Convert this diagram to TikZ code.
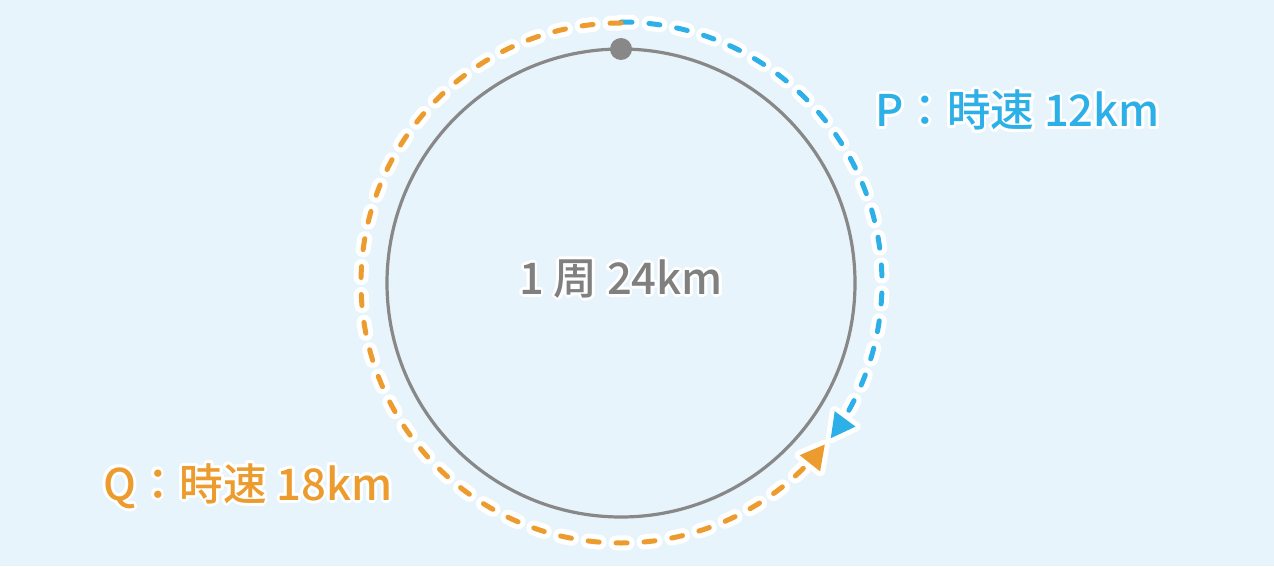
\documentclass[tikz,border=0pt]{standalone}
\usepackage{fontspec}
\setmainfont{Noto Sans CJK JP}
\newfontfamily\lblfont{Noto Sans CJK JP Medium}
\usetikzlibrary{calc}
\definecolor{bg}{HTML}{E7F4FC}
\definecolor{pblue}{HTML}{2DB0E8}
\definecolor{qorange}{HTML}{EC9C2E}
\definecolor{ringgray}{HTML}{888888}
\definecolor{txtgray}{HTML}{808080}
\newcommand{\halolabel}[5]{% name, anchor, position, color, text
  \foreach \a in {0,30,...,330}{\node[lbl, anchor=#2, text=white] at ($(#3)+(\a:2.8pt)$) {#5};}
  \node[lbl, anchor=#2, text=#4] (#1) at (#3) {#5};
}
\begin{document}
\begin{tikzpicture}[x=1pt,y=1pt,
  lbl/.style={inner sep=0pt, font=\lblfont\fontsize{43.6}{43.6}\selectfont},
  halo/.style={white, line width=15pt, line cap=round, dash pattern=on 11pt off 17pt},
  track/.style={line width=5pt, line cap=round, dash pattern=on 11pt off 17pt},
  headhalo/.style={draw=white, line width=10pt, line join=round},
]
\fill[bg] (0,0) rectangle (1274,566);
\useasboundingbox (0,0) rectangle (1274,566);
\coordinate (c) at (621,283);
% arrowhead points
\coordinate (pT) at (830.8,127.8);
\coordinate (pB1) at (855.5,139.4);
\coordinate (pB2) at (834.7,154.8);
\coordinate (qT) at (824.8,121.5);
\coordinate (qB1) at (799.7,110.8);
\coordinate (qB2) at (820.1,94.6);
% ring
\draw[ringgray, line width=3.2pt] (c) circle[radius=234];
\fill[ringgray] ($(c)+(90:234)$) circle[radius=11];
% halos
\draw[halo] ($(c)+(90:261)$) arc[start angle=90, end angle=-31, radius=261];
\draw[halo] ($(c)+(90:260)$) arc[start angle=90, end angle=316, radius=260];
\draw[headhalo] (pT) -- (pB1) -- (pB2) -- cycle;
\draw[headhalo] (qT) -- (qB1) -- (qB2) -- cycle;
% tracks
\draw[track, pblue] ($(c)+(90:261)$) arc[start angle=90, end angle=-31, radius=261];
\draw[track, qorange] ($(c)+(90:260)$) arc[start angle=90, end angle=316, radius=260];
\fill[pblue] (pT) -- (pB1) -- (pB2) -- cycle;
\fill[qorange] (qT) -- (qB1) -- (qB2) -- cycle;
% labels
\halolabel{plabel}{west}{875,456}{pblue}{P：時速 12km}
\halolabel{qlabel}{west}{103,80}{qorange}{Q：時速 18km}
\halolabel{clabel}{center}{621,287}{txtgray}{1 周 24km}
\end{tikzpicture}
\end{document}
